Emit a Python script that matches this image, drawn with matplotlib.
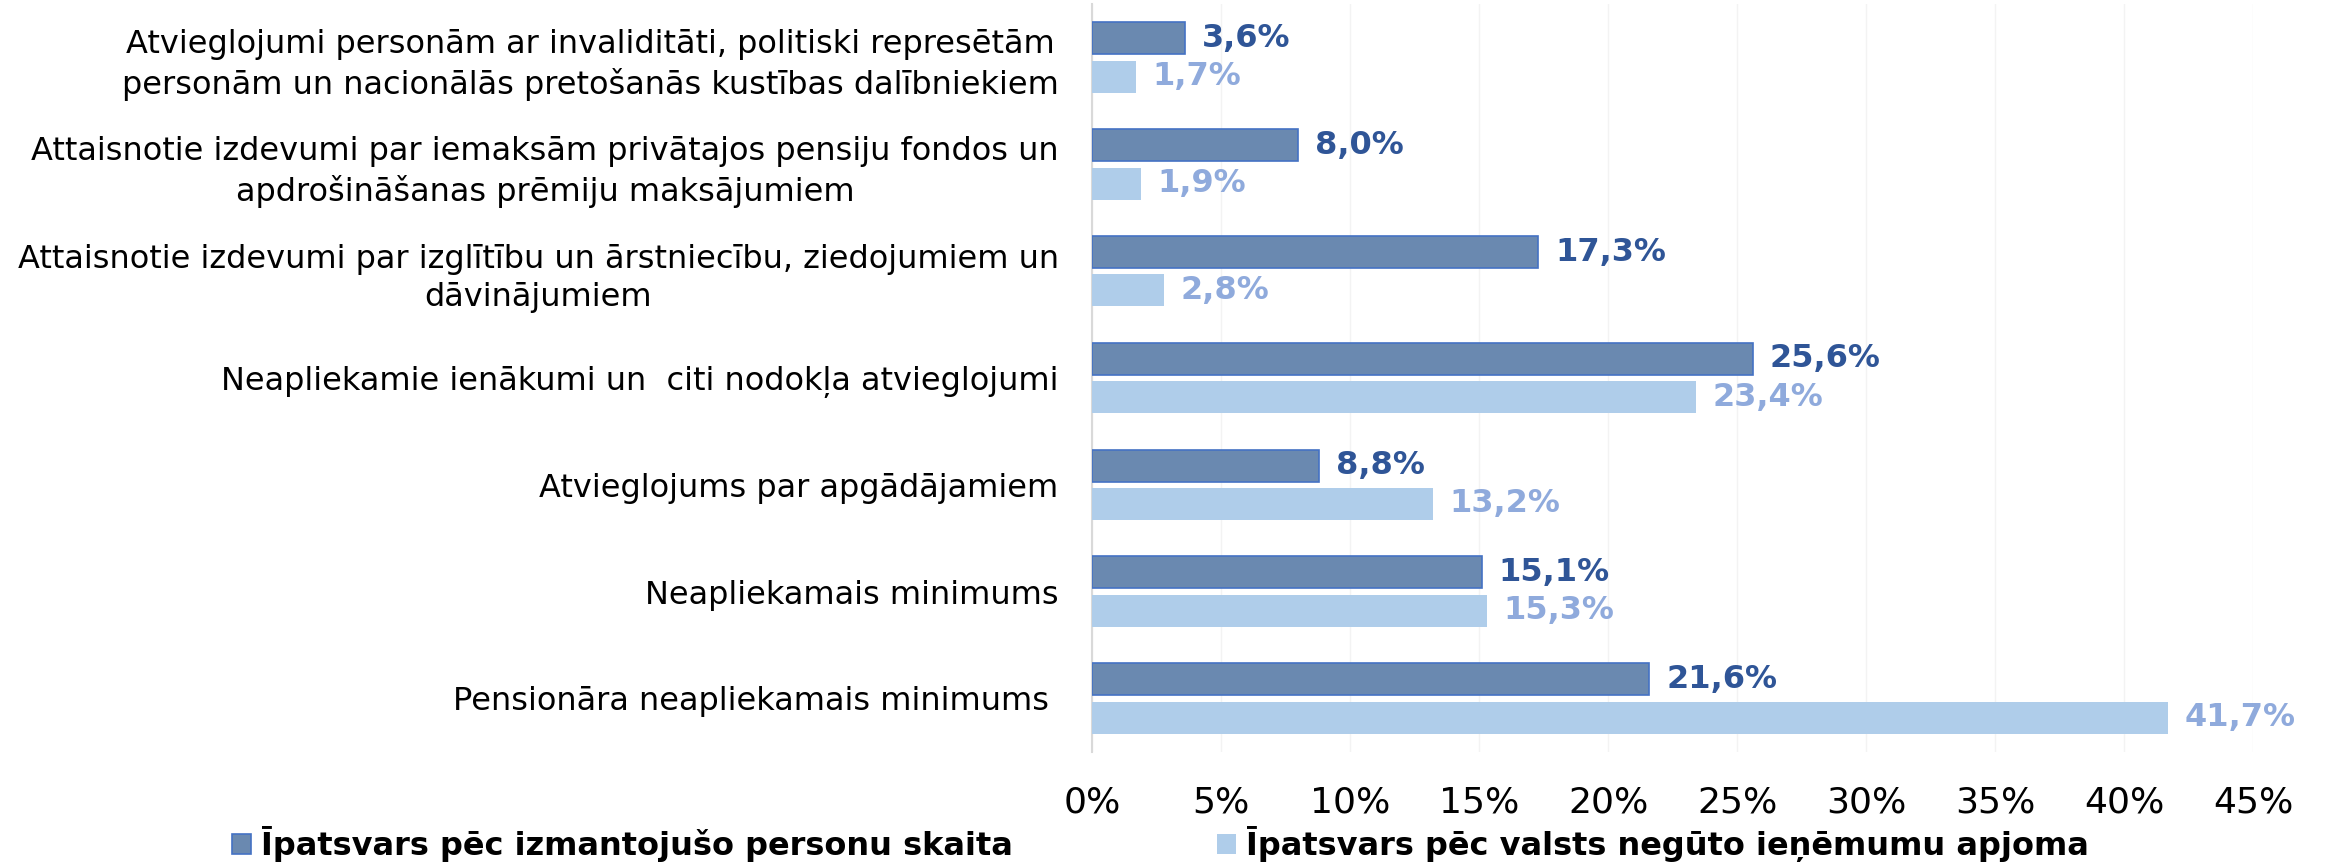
import matplotlib.pyplot as plt
import numpy as np

categories = [
    'Atvieglojumi personām ar invaliditāti, politiski represētām\npersonām un nacionālās pretošanās kustības dalībniekiem',
    'Attaisnotie izdevumi par iemaksām privātajos pensiju fondos un\napdrošināšanas prēmiju maksājumiem',
    'Attaisnotie izdevumi par izglītību un ārstniecību, ziedojumiem un\ndāvinājumiem',
    'Neapliekamie ienākumi un  citi nodokļa atvieglojumi',
    'Atvieglojums par apgādājamiem',
    'Neapliekamais minimums',
    'Pensionāra neapliekamais minimums ',
]
persons = [3.6, 8.0, 17.3, 25.6, 8.8, 15.1, 21.6]
revenue = [1.7, 1.9, 2.8, 23.4, 13.2, 15.3, 41.7]
series_names = ['Īpatsvars pēc izmantojušo personu skaita',
                'Īpatsvars pēc valsts negūto ieņēmumu apjoma']
xticks = [0, 5, 10, 15, 20, 25, 30, 35, 40, 45]

dark = '#6a89b0'
dark_edge = '#4472c4'
light = '#afcdea'
dark_txt = '#2f5597'
light_txt = '#8faadc'

fig = plt.figure(figsize=(23.3, 8.64), dpi=100)
ax = fig.add_axes([0.4687, 0.130, 0.4983, 0.865])

y = np.arange(len(categories))
h = 0.3
off = 0.18
b1 = ax.barh(y - off, persons, height=h, color=dark, edgecolor=dark_edge, linewidth=1.2,
             label=series_names[0], zorder=3)
b2 = ax.barh(y + off, revenue, height=h, color=light, edgecolor=light, linewidth=0,
             label=series_names[1], zorder=3)

for yy, v in zip(y - off, persons):
    ax.annotate(f'{v:.1f}%'.replace('.', ','), (v, yy), xytext=(12, 0), textcoords='offset points',
                va='center', ha='left', fontsize=23, fontweight='bold', color=dark_txt)
for yy, v in zip(y + off, revenue):
    ax.annotate(f'{v:.1f}%'.replace('.', ','), (v, yy), xytext=(12, 0), textcoords='offset points',
                va='center', ha='left', fontsize=23, fontweight='bold', color=light_txt)

ax.set_ylim(len(categories) - 0.5, -0.5)
ax.set_xlim(0, 45)
ax.set_xticks(xticks)
ax.set_xticklabels([f'{t}%' for t in xticks], fontsize=26)
ax.set_yticks(y)
ax.set_yticklabels(categories, fontsize=23, multialignment='center', linespacing=1.3)
ax.tick_params(axis='both', length=0)
ax.tick_params(axis='y', pad=24)
ax.tick_params(axis='x', pad=24)

ax.grid(axis='x', color='#f3f3f3', linewidth=1, zorder=0)
for s in ['top', 'right', 'bottom']:
    ax.spines[s].set_visible(False)
ax.spines['left'].set_color('#d9d9d9')
ax.spines['left'].set_linewidth(1.5)

fig.legend(handles=[b1, b2], labels=series_names, loc='center',
           bbox_to_anchor=(0.498, 1 - 844 / 864), ncol=2, frameon=False,
           prop={'size': 23, 'weight': 'bold'}, handlelength=0.6, handleheight=0.6,
           handletextpad=0.3, columnspacing=6.4)

fig.savefig('out.png', dpi=100)
